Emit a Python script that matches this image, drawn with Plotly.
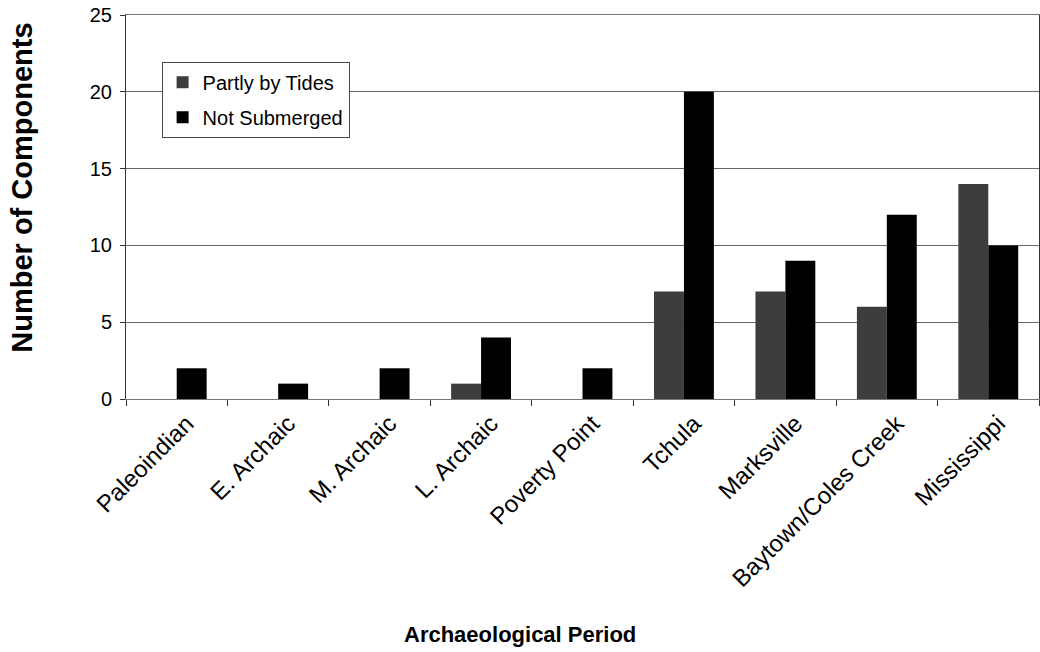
import plotly.graph_objects as go

periods = ["Paleoindian", "E. Archaic", "M. Archaic", "L. Archaic", "Poverty Point",
           "Tchula", "Marksville", "Baytown/Coles Creek", "Mississippi"]
partly_by_tides = [0, 0, 0, 1, 0, 7, 7, 6, 14]
not_submerged = [2, 1, 2, 4, 2, 20, 9, 12, 10]
y_ticks = [0, 5, 10, 15, 20, 25]

FONT = "Liberation Sans, Arial, sans-serif"

fig = go.Figure()
fig.add_trace(go.Bar(x=periods, y=partly_by_tides, name="Partly by Tides",
                     legendgroup="tides",
                     marker=dict(color="#3d3d3d", line=dict(width=0))))
fig.add_trace(go.Bar(x=periods, y=not_submerged, name="Not Submerged",
                     legendgroup="dry",
                     marker=dict(color="#000000", line=dict(width=0))))

fig.update_layout(
    width=1040, height=652,
    margin=dict(l=126, r=1, t=15, b=253),
    paper_bgcolor="white", plot_bgcolor="white",
    barmode="group", bargap=0.41, bargroupgap=0,
    font=dict(family=FONT, color="black", size=20),
    showlegend=True,
    legend=dict(x=0.039, y=0.878, xanchor="left", yanchor="top",
                bgcolor="white", bordercolor="#444", borderwidth=1,
                font=dict(size=20, family=FONT), tracegroupgap=6,
                traceorder="grouped", itemwidth=30),
)

fig.update_xaxes(
    type="category", tickangle=-45, showgrid=False,
    showline=True, linecolor="#777", linewidth=1, mirror=True,
    ticks="outside", ticklen=6, tickcolor="#333",
    tickson="boundaries", ticklabelshift=10,
    tickfont=dict(size=24, family=FONT),
)
fig.update_yaxes(
    range=[0, 25], tickvals=y_ticks, showgrid=True, gridcolor="#666", gridwidth=1,
    showline=True, linecolor="#333", linewidth=1, mirror=True,
    ticks="outside", ticklen=5, tickcolor="#333", zeroline=False,
    ticklabelstandoff=4, tickfont=dict(size=20, family=FONT),
)

fig.add_annotation(text="<b>Number of Components</b>", xref="paper", yref="paper",
                   x=-0.114, y=0.55, xanchor="center", yanchor="middle",
                   textangle=-90, showarrow=False,
                   font=dict(size=29, family=FONT, color="black"))
fig.add_annotation(text="<b>Archaeological Period</b>", xref="paper", yref="paper",
                   x=0.432, y=-0.613, xanchor="center", yanchor="middle",
                   showarrow=False, font=dict(size=22, family=FONT, color="black"))

fig.write_html("out.html")
